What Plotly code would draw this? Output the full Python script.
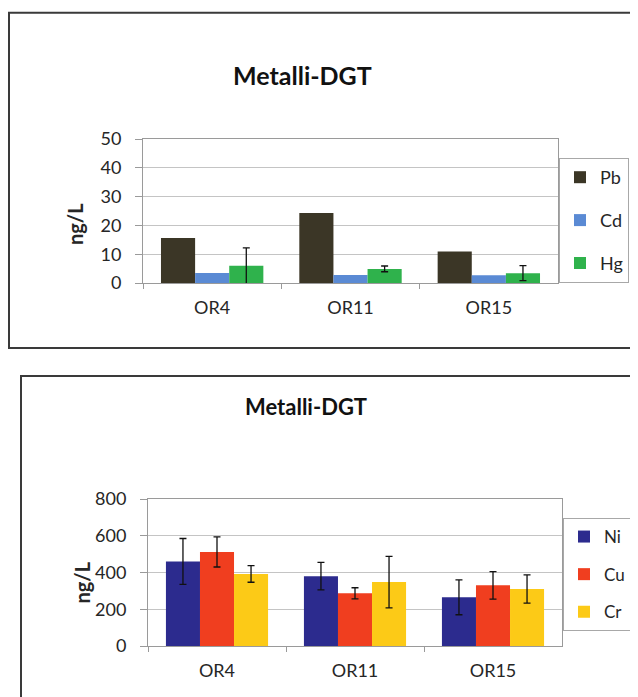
import plotly.graph_objects as go

W, H = 638, 697
# the page body adds an 8px margin; positions below are measured in window pixels
OFF = 8

# ---------------- data ----------------
sites = ["OR4", "OR11", "OR15"]

top_metals = ["Pb", "Cd", "Hg"]
pb = [15.6, 24.3, 10.9]
cd = [3.5, 2.8, 2.7]
hg = [6.0, 4.9, 3.4]
hg_err = [6.2, 1.0, 2.6]

bottom_metals = ["Ni", "Cu", "Cr"]
ni = [460, 380, 265]
cu = [512, 287, 330]
cr = [392, 348, 310]
ni_err = [125, 75, 95]
cu_err = [82, 30, 75]
cr_err = [45, 140, 77]

top_colors = ["#3b3626", "#5a8ad4", "#2fb24c"]
bottom_colors = ["#2c2b8e", "#f03e1f", "#fcca17"]

FONT = "Lato"
GRID = "#c4c4c4"
AXL = "#9a9a9a"
TXT = "#262626"


def px(x):
    return (x - OFF) / W


def py(y):
    return 1 - (y - OFF) / H


fig = go.Figure()

top_vals = [pb, cd, hg]
top_errs = [None, None, hg_err]
for name, vals, err, col in zip(top_metals, top_vals, top_errs, top_colors):
    fig.add_trace(go.Bar(
        x=sites, y=vals, name=name, marker=dict(color=col, line=dict(width=0)),
        error_y=(dict(type="data", array=err, color="#111111", thickness=1.3, width=3.5)
                 if err else None),
        xaxis="x", yaxis="y", legend="legend", legendgroup=name,
    ))

bot_vals = [ni, cu, cr]
bot_errs = [ni_err, cu_err, cr_err]
for name, vals, err, col in zip(bottom_metals, bot_vals, bot_errs, bottom_colors):
    fig.add_trace(go.Bar(
        x=sites, y=vals, name=name, marker=dict(color=col, line=dict(width=0)),
        error_y=dict(type="data", array=err, color="#111111", thickness=1.3, width=3.5),
        xaxis="x2", yaxis="y2", legend="legend2", legendgroup=name,
    ))

axis_font = dict(family=FONT, size=18, color=TXT)
cat_font = dict(family=FONT, size=18, color=TXT)

common_x = dict(type="category", showgrid=False, showline=True, linecolor=AXL, linewidth=1,
                mirror=True, ticks="outside", tickson="boundaries", ticklen=5, tickcolor=AXL,
                tickfont=cat_font, ticklabelstandoff=8, automargin=False, fixedrange=True)
common_y = dict(showgrid=True, gridcolor=GRID, gridwidth=1, showline=True, linecolor=AXL,
                linewidth=1, mirror=True, ticks="outside", ticklen=7, tickcolor=AXL,
                tickfont=axis_font, ticklabelstandoff=10, zeroline=False,
                automargin=False, fixedrange=True)

fig.update_layout(
    width=W, height=H,
    margin=dict(l=0, r=0, t=0, b=0, pad=0, autoexpand=False),
    paper_bgcolor="white", plot_bgcolor="white",
    barmode="group", bargap=0.26, bargroupgap=0,
    font=dict(family=FONT, color=TXT),
    xaxis=dict(domain=[px(143), px(558)], anchor="y", **common_x),
    yaxis=dict(domain=[py(283), py(139)], anchor="x", range=[0, 50], dtick=10, **common_y),
    xaxis2=dict(domain=[px(148), px(562)], anchor="y2", **common_x),
    yaxis2=dict(domain=[py(646), py(499)], anchor="x2", range=[0, 800], dtick=200, **common_y),
    legend=dict(x=px(559), y=py(158), xanchor="left", yanchor="top",
                bgcolor="white", bordercolor="#a8a8a8", borderwidth=1,
                font=dict(family=FONT, size=18, color=TXT),
                tracegroupgap=16.5, itemwidth=30),
    legend2=dict(x=px(563), y=py(518), xanchor="left", yanchor="top",
                 bgcolor="white", bordercolor="#a8a8a8", borderwidth=1,
                 font=dict(family=FONT, size=17, color=TXT),
                 tracegroupgap=12.5, itemwidth=30),
    showlegend=True,
    annotations=[
        dict(text="<b>Metalli-DGT</b>", x=px(302), y=py(75), xref="paper", yref="paper",
             xanchor="center", yanchor="middle",
             showarrow=False, font=dict(family=FONT, size=25, color="#111111")),
        dict(text="<b>Metalli-DGT</b>", x=px(306), y=py(406), xref="paper", yref="paper",
             xanchor="center", yanchor="middle",
             showarrow=False, font=dict(family=FONT, size=22, color="#111111")),
        dict(text="<b>ng/L</b>", x=px(75), y=py(224), xref="paper", yref="paper",
             xanchor="center", yanchor="middle", textangle=-90,
             showarrow=False, font=dict(family=FONT, size=20, color=TXT)),
        dict(text="<b>ng/L</b>", x=px(81.5), y=py(583), xref="paper", yref="paper",
             xanchor="center", yanchor="middle", textangle=-90,
             showarrow=False, font=dict(family=FONT, size=20, color=TXT)),
    ],
    shapes=[
        dict(type="rect", xref="paper", yref="paper", x0=px(9), x1=px(660), y0=py(12.7), y1=py(348),
             line=dict(color="#3a3a3a", width=2)),
        dict(type="rect", xref="paper", yref="paper", x0=px(21), x1=px(660), y0=py(376), y1=py(720),
             line=dict(color="#3a3a3a", width=2)),
    ],
)

fig.write_html("out.html")
